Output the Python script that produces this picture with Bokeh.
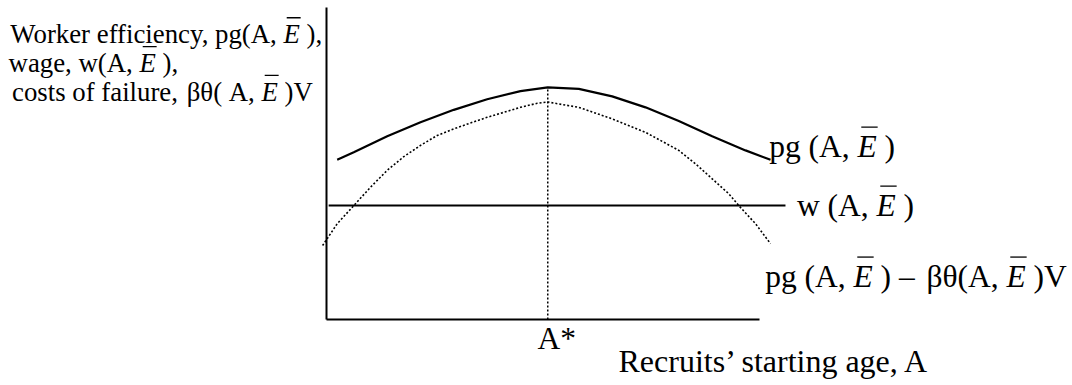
from bokeh.plotting import figure
from bokeh.models import Range1d
from bokeh.core.properties import value
from bokeh.embed import file_html
from bokeh.resources import INLINE

# ---------------- data (chart units: A along x, value along y) ----------------
pg_A = [0.247, 0.630, 1.402, 2.171, 2.940, 3.711, 4.480, 5.110, 5.827, 6.598,
        7.367, 8.136, 8.907, 9.677, 10.254]
pg_Y = [5.12, 5.36, 5.87, 6.32, 6.72, 7.06, 7.32, 7.44, 7.39, 7.15,
        6.80, 6.36, 5.87, 5.42, 5.12]

net_A = [-0.09, 0.247, 0.630, 1.016, 1.402, 1.785, 2.171, 2.557, 2.940, 3.326,
         3.711, 4.095, 4.480, 4.866, 5.110, 5.827, 6.598, 7.367, 8.136, 8.522,
         8.907, 9.291, 9.522, 9.908, 10.254]
net_Y = [2.37, 3.07, 3.65, 4.24, 4.78, 5.22, 5.58, 5.90, 6.11, 6.30,
         6.48, 6.64, 6.80, 6.93, 6.97, 6.80, 6.43, 6.00, 5.42, 4.99,
         4.51, 4.03, 3.65, 3.07, 2.43]

wage_A = [0.05, 10.60]
wage_Y = [3.65, 3.65]

A_star = 5.11
A_star_top = 7.44

axis_x_end = 10.0
axis_y_end = 10.0

# ---------------- texts ----------------
# Each label is a list of runs: (text, kind) with kind "L" = free text placed
# left-aligned, "R" = text right-aligned against the next E, "E" = italic E with bar,
# "A" = text following the last E
ylab_lines = [
    [("Worker efficiency, pg(A,", "R"), ("E", "E"), ("),", "A")],
    [("wage, w(A,", "R"), ("E", "E"), ("),", "A")],
    [("costs of failure,", "L"), ("\u03b2\u03b8( A,", "R"), ("E", "E"), (")V", "A")],
]
lab_pg = [("pg (A,", "R"), ("E", "E"), (")", "A")]
lab_w = [("w (A,", "R"), ("E", "E"), (")", "A")]
lab_net = [("pg (A,", "R"), ("E", "E"), (") \u2013", "A"), ("\u03b2\u03b8(A,", "R"), ("E", "E"), (")V", "A")]
lab_astar = "A*"
lab_xtitle = "Recruits\u2019 starting age, A"

# ---------------- layout (screen pixels of the reference) ----------------
W, H = 1072, 385
X0, KX = 326.0, 43.3     # px of A=0, px per unit
Y0, KY = 319.0, 31.2     # px of value=0, px per unit
BASE_FIX = 0.34          # rendered text sits this many em lower than asked
FONT = "Liberation Serif"
SPACE = 0.25             # em
EW = 0.611               # italic E advance, em


def ax(px):
    return (px - X0) / KX


def ay(py):
    return (Y0 - py) / KY


p = figure(width=W, height=H, x_axis_type=None, y_axis_type=None,
           x_range=Range1d(ax(0), ax(W)), y_range=Range1d(ay(H), ay(0)),
           min_border=0, toolbar_location=None, output_backend="svg",
           background_fill_color="white", border_fill_color="white")
p.outline_line_color = None
p.grid.visible = False

# axes
p.line([0, 0], [0, axis_y_end], line_color="black", line_width=2)
p.line([0, axis_x_end], [0, 0], line_color="black", line_width=2)

# curves
p.line(pg_A, pg_Y, line_color="black", line_width=2.2)
p.line(net_A, net_Y, line_color="black", line_width=1.6, line_dash="2 2")
p.line(wage_A, wage_Y, line_color="black", line_width=2)
p.line([A_star, A_star], [0, A_star_top], line_color="black", line_width=1.5, line_dash="2 2")


def txt(s, x_px, base_px, size, align="left", italic=False):
    p.text(x=[ax(x_px)], y=[ay(base_px - BASE_FIX * size)], text=[s], text_font=value(FONT),
           text_font_size=f"{size}px", text_font_style="italic" if italic else "normal",
           text_align=align, text_baseline="alphabetic", text_color="black")


def ebar(x_px, base_px, size):
    txt("E", x_px, base_px, size, italic=True)
    oy = ay(base_px - 0.95 * size)
    p.line([ax(x_px + 0.12 * size), ax(x_px + 0.64 * size)], [oy, oy],
           line_color="black", line_width=1.3)


def label(runs, left_px, e_xs, base_px, size):
    ei = 0
    last_e_end = None
    for s, kind in runs:
        if kind == "L":
            txt(s, left_px, base_px, size)
        elif kind == "R":
            txt(s, e_xs[ei] - SPACE * size, base_px, size, align="right")
        elif kind == "E":
            ebar(e_xs[ei], base_px, size)
            last_e_end = e_xs[ei] + EW * size
            ei += 1
        else:  # "A": after the last E, one space later
            txt(s, last_e_end + SPACE * size, base_px, size)


YS = 26.8
y_e_x = [283, 139, 261]
y_base = [42.7, 71.5, 100.3]
for runs, ex, b in zip(ylab_lines, y_e_x, y_base):
    label(runs, 11.5, [ex], b, YS)

LS = 31.5
label(lab_pg, 771.7, [857], 156.5, LS)
label(lab_w, 797, [876], 215.5, LS)
label(lab_net, 771.7, [853, 1006], 286.5, LS)
txt(lab_astar, 537, 349, LS)
txt(lab_xtitle, 618, 371.7, 32)

open("out.html", "w").write(file_html(p, INLINE))
